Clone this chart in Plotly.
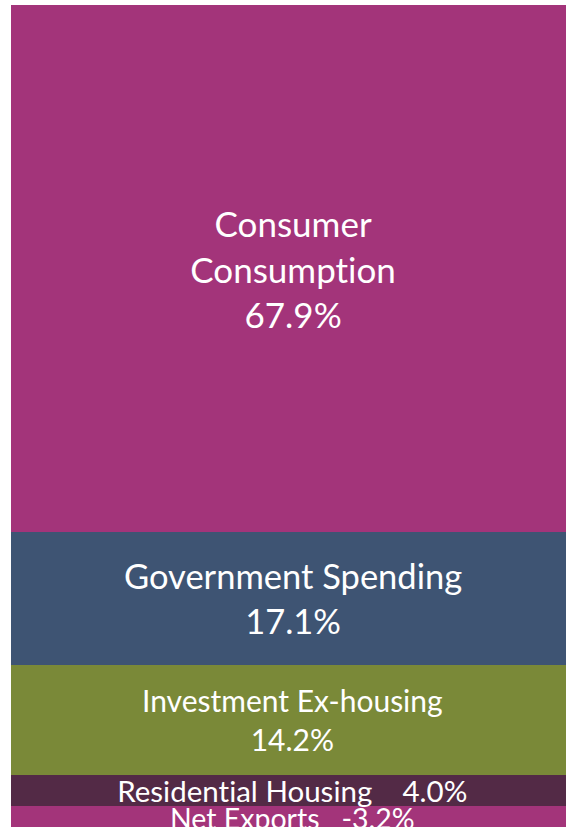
import plotly.graph_objects as go

# ---- data ----
segments = ["Consumer<br>Consumption", "Government Spending", "Investment Ex-housing",
            "Residential Housing", "Net Exports"]
shares = [67.9, 17.1, 14.2, 4.0, -3.2]

# ---- styles ----
colors = ["#A3347A", "#3E5473", "#7A8938", "#532A46", "#A3347A"]
font_sizes = [35, 34.5, 30, 29.5, 28.5]
same_line = [False, False, False, True, True]
gaps = ["", "", "", "\u00a0" * 3, "\u00a0" * 2]

fig = go.Figure()
annotations = []
base = 0.0
for name, v, c, fs, inline, gap in zip(segments, shares, colors, font_sizes, same_line, gaps):
    h = abs(v)
    fig.add_trace(go.Bar(
        x=[0], y=[h], base=[base], width=[1.0],
        marker=dict(color=c, line=dict(width=0)),
        showlegend=False, hoverinfo="skip",
    ))
    label = f"{v:.1f}%"
    text = f"{name} {gap}{label}" if inline else f"{name}<br>{label}"
    annotations.append(dict(
        x=0, y=base + h / 2, xref="x", yref="y", text=text, showarrow=False,
        font=dict(family="Lato, Carlito, Calibri, sans-serif", size=fs, color="white"),
        xanchor="center", yanchor="middle", align="center",
    ))
    base += h

fig.update_layout(
    width=566, height=827,
    margin=dict(l=11, r=0, t=5, b=0),
    paper_bgcolor="white", plot_bgcolor="white",
    barmode="overlay", bargap=0,
    xaxis=dict(range=[-0.5, 0.4858], visible=False, fixedrange=True),
    yaxis=dict(range=[105.9, 0], visible=False, fixedrange=True),
    annotations=annotations,
    showlegend=False,
)

fig.write_html(
    "out.html",
    config={"displayModeBar": False},
    post_script=(
        "document.body.style.margin='0';document.body.style.overflow='hidden';"
        "document.body.style.fontVariantLigatures='none';"
        "document.querySelectorAll('text').forEach(function(t){"
        "t.style.fontVariantLigatures='none';t.style.fontFeatureSettings='\"liga\" 0';});"
    ),
)
